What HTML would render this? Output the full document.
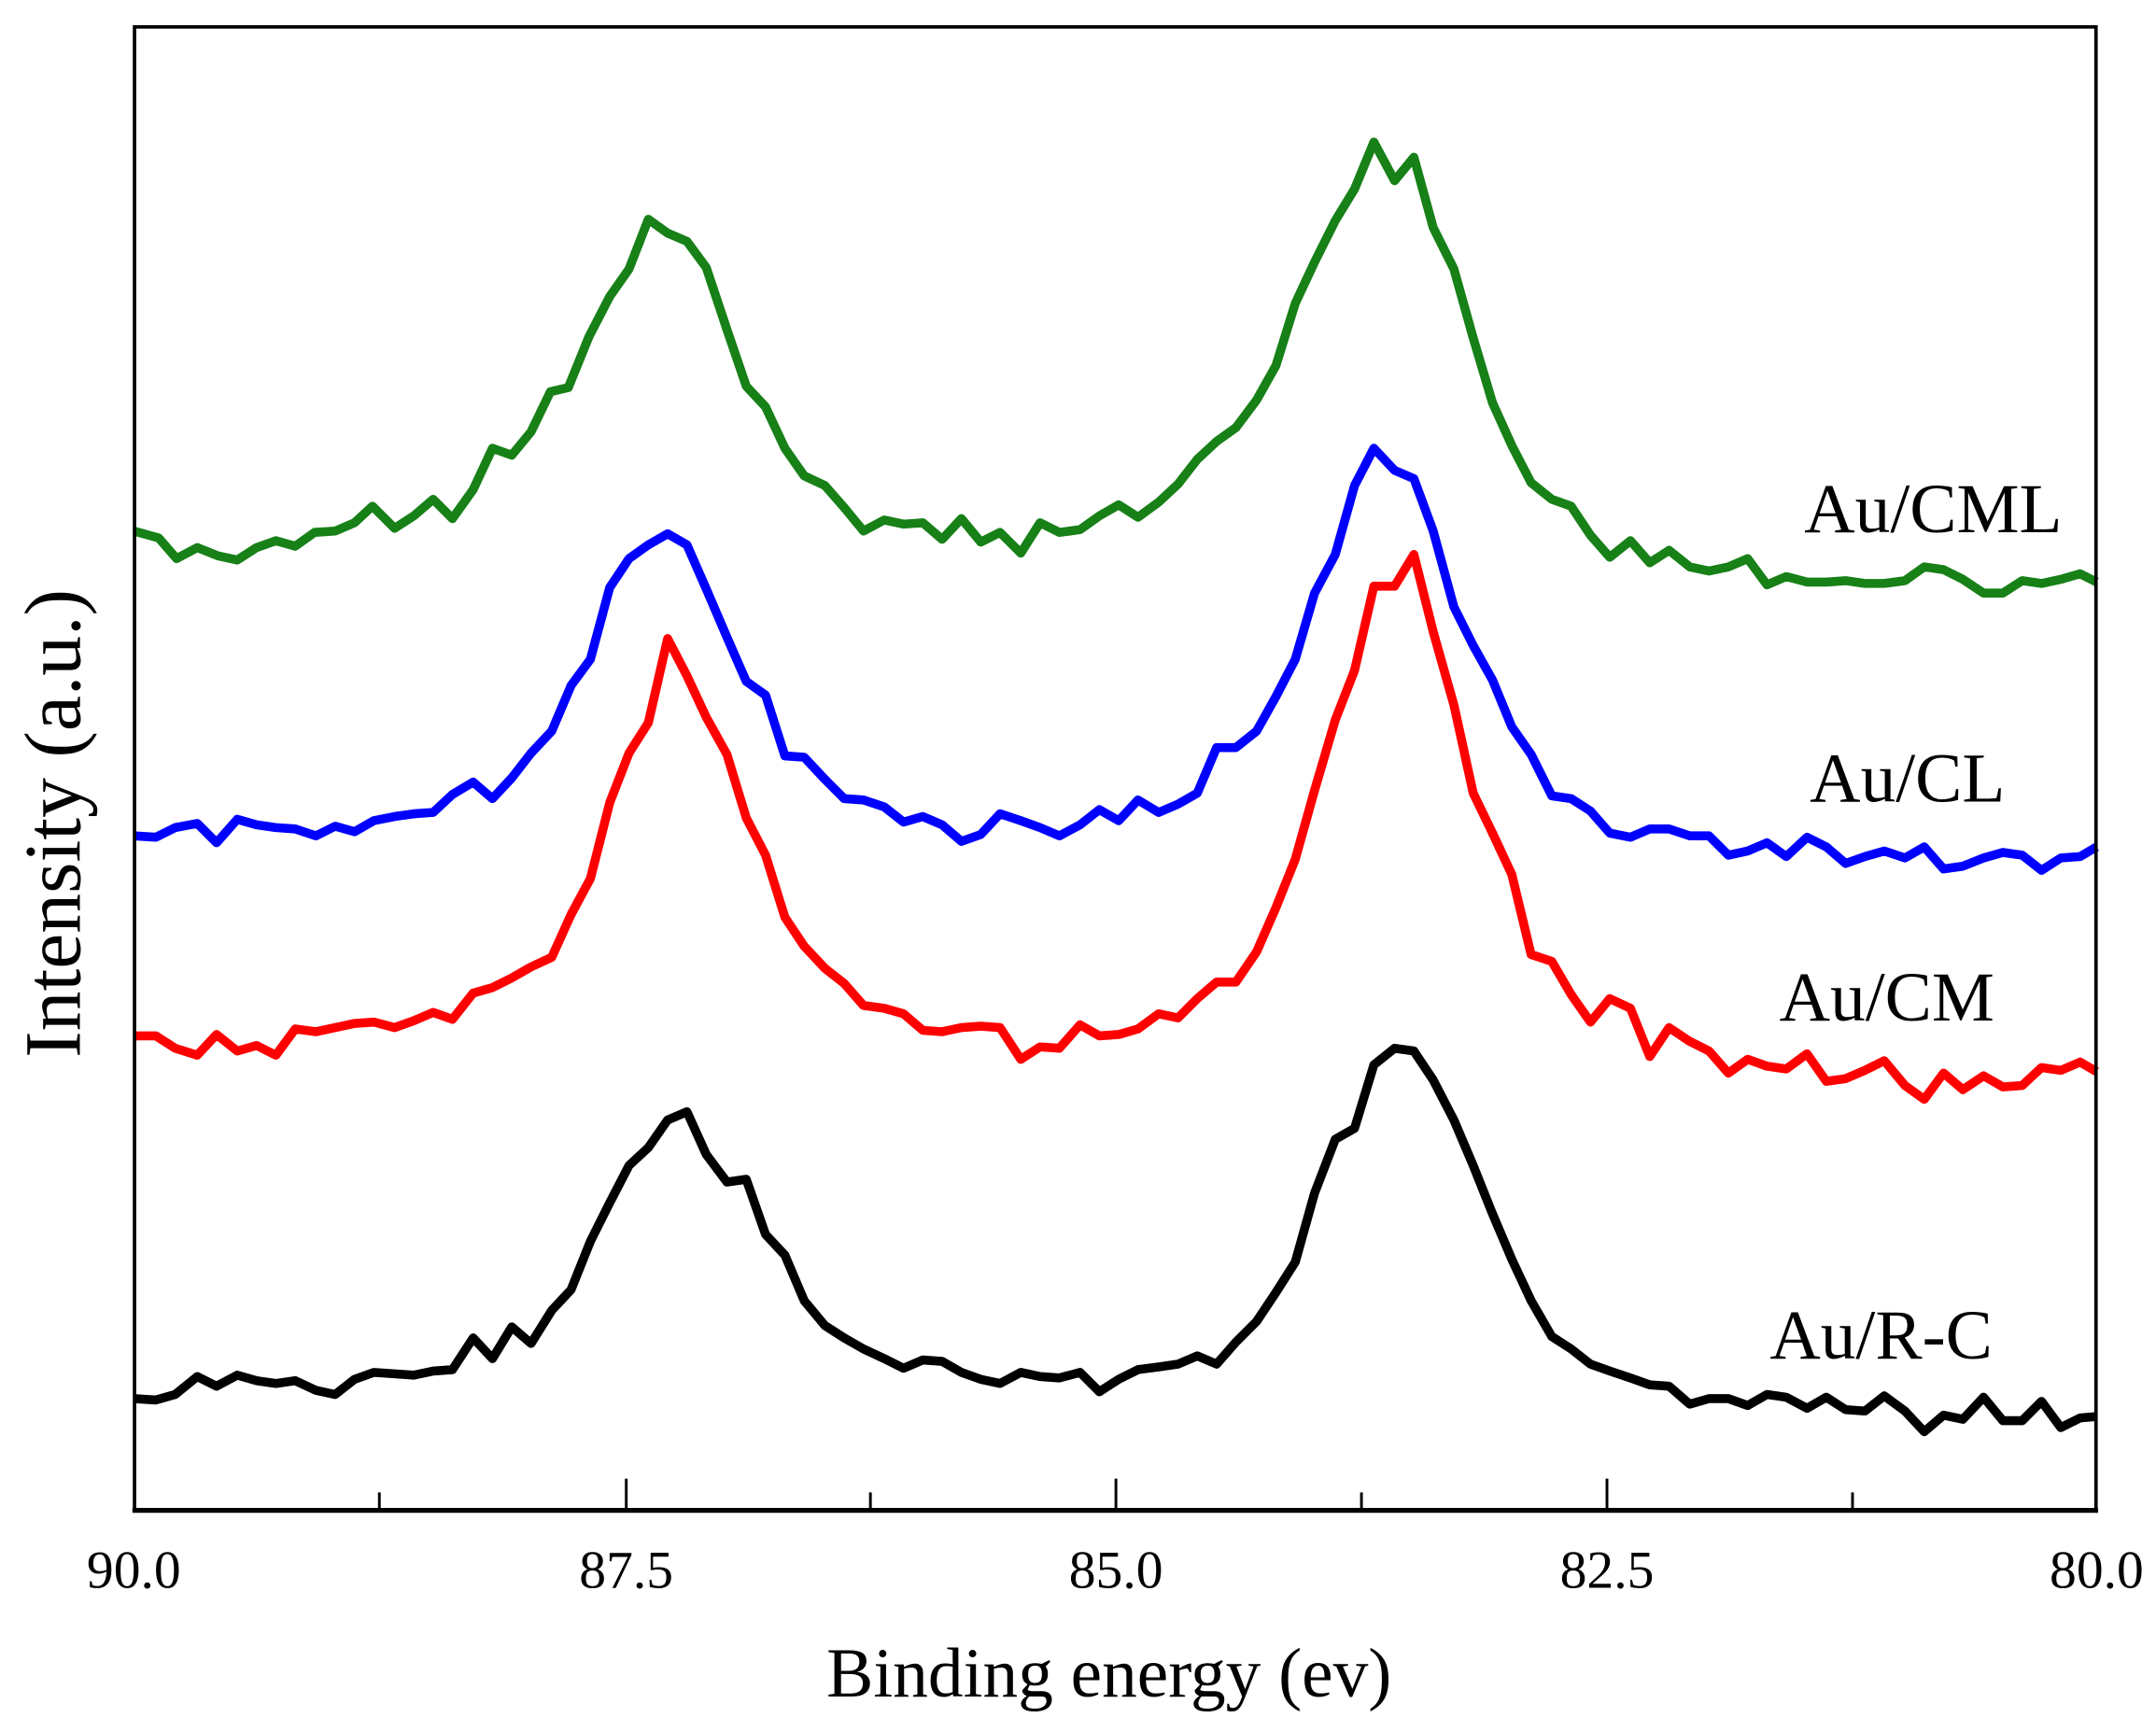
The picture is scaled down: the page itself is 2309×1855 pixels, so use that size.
<!DOCTYPE html>
<html><head><meta charset="utf-8"><style>html,body{margin:0;padding:0;background:#fff}svg{display:block}</style></head>
<body>
<svg width="2309" height="1855" viewBox="0 0 1563 1255.7" xmlns="http://www.w3.org/2000/svg" font-family="Liberation Serif, serif">
<rect width="1563" height="1256" fill="#fff"/>
<g fill="none" stroke-width="6.5" stroke-linejoin="round">
<polyline stroke="#178017" points="97,385 115,390 128,405 143,397 158,403 172,406 186,397 200,392 214,396 228,386 243,385 257,379 270,367 286,383 300,374 314,362 328,376 343,355 357,325 371,330 385,313 399,284 412,281 427,244 442,215 456,195 470,159 484,169 498,175 512,194 527,239 541,280 555,295 569,325 583,345 598,352 612,368 626,385 641,377 655,380 669,379 683,391 697,376 711,393 725,386 740,401 754,379 768,386 783,384 797,374 811,366 825,375 840,364 854,351 868,333 882,320 896,310 911,290 925,265 939,220 953,190 968,160 982,137 996,103 1011,131 1025,114 1039,165 1054,195 1068,245 1082,292 1096,323 1110,350 1125,362 1139,367 1153,388 1167,404 1182,392 1196,408 1210,399 1225,411 1239,414 1253,411 1267,405 1281,424 1295,418 1310,422 1324,422 1338,421 1352,423 1366,423 1381,421 1395,411 1409,413 1423,420 1438,430 1452,430 1466,421 1480,423 1494,420 1508,416 1520,422"/>
<polyline stroke="#0000ff" points="97,606 113,607 127,600 143,597 157,611 172,594 186,598 200,600 214,601 229,606 243,599 257,603 271,595 286,592 300,590 314,589 328,576 343,567 357,579 371,564 385,546 400,530 414,497 428,478 442,426 456,405 470,395 484,387 498,395 512,427 527,462 541,494 555,504 569,548 583,549 598,565 612,579 626,580 641,585 655,596 669,592 683,598 697,610 711,605 725,590 740,595 754,600 768,606 783,598 797,587 811,595 825,580 840,589 854,583 868,575 882,542 896,542 911,530 925,505 939,478 953,430 968,402 982,352 996,325 1011,341 1025,347 1039,385 1054,440 1068,468 1082,493 1096,527 1110,547 1125,577 1139,579 1153,588 1167,604 1182,607 1196,601 1210,601 1225,606 1239,606 1253,620 1267,617 1281,611 1295,621 1310,607 1324,614 1338,626 1352,621 1366,617 1381,622 1395,614 1409,630 1423,628 1438,622 1452,618 1466,620 1480,631 1494,622 1508,621 1520,614"/>
<polyline stroke="#ff0000" points="97,751 113,751 127,760 143,765 157,750 172,762 186,758 200,765 214,746 229,748 243,745 257,742 271,741 286,745 300,740 314,734 328,739 343,720 357,716 371,709 385,701 400,694 414,663 428,637 442,582 456,546 470,524 484,463 498,490 512,520 527,547 541,593 555,620 569,665 583,686 598,702 612,713 626,729 641,731 655,735 669,747 683,748 697,745 711,744 725,745 740,768 754,759 768,760 783,743 797,751 811,750 825,746 840,735 854,738 868,724 882,712 896,712 911,690 925,658 939,623 953,573 968,522 982,486 996,425 1011,425 1025,402 1039,458 1054,511 1068,575 1082,604 1096,634 1110,692 1125,697 1139,721 1153,741 1167,724 1182,731 1196,766 1210,745 1225,755 1239,762 1253,778 1267,768 1281,773 1295,775 1310,764 1324,784 1338,782 1352,776 1366,769 1381,787 1395,797 1409,778 1423,790 1438,780 1452,788 1466,787 1480,774 1494,776 1508,770 1520,777"/>
<polyline stroke="#000" points="97,1014 113,1015 127,1011 143,998 157,1005 172,997 186,1001 200,1003 214,1001 229,1008 243,1011 257,1000 271,995 286,996 300,997 314,994 328,993 343,970 357,985 371,962 385,974 400,950 414,935 428,900 442,872 456,845 470,832 484,812 498,806 512,837 527,857 541,855 555,895 569,910 583,943 598,961 612,970 626,978 641,985 655,992 669,986 683,987 697,995 711,1000 725,1003 740,995 754,998 768,999 783,995 797,1009 811,1000 825,993 840,991 854,989 868,983 882,989 896,973 911,958 925,937 939,915 953,865 968,826 982,818 996,772 1011,760 1025,762 1039,783 1054,812 1068,845 1082,880 1096,913 1110,943 1125,969 1139,978 1153,989 1167,994 1182,999 1196,1004 1210,1005 1225,1018 1239,1014 1253,1014 1267,1019 1281,1011 1295,1013 1310,1021 1324,1013 1338,1022 1352,1023 1366,1012 1381,1023 1395,1038 1409,1026 1423,1029 1438,1013 1452,1030 1466,1030 1480,1016 1494,1035 1508,1028 1520,1027"/>
</g>
<rect x="97.5" y="19.5" width="1422" height="1075" fill="none" stroke="#000" stroke-width="2.5"/>
<line x1="96" y1="1095" x2="1521" y2="1095" stroke="#000" stroke-width="3.5"/>
<g stroke="#000" stroke-width="2">
<line x1="275" y1="1095" x2="275" y2="1082"/>
<line x1="454" y1="1095" x2="454" y2="1072"/>
<line x1="631" y1="1095" x2="631" y2="1082"/>
<line x1="809" y1="1095" x2="809" y2="1072"/>
<line x1="987" y1="1095" x2="987" y2="1082"/>
<line x1="1165" y1="1095" x2="1165" y2="1072"/>
<line x1="1343" y1="1095" x2="1343" y2="1082"/>
</g>
<g font-size="39" text-anchor="middle" fill="#000">
<text x="97" y="1151">90.0</text>
<text x="454" y="1151">87.5</text>
<text x="809" y="1151">85.0</text>
<text x="1165" y="1151">82.5</text>
<text x="1520" y="1151">80.0</text>
</g>
<text x="804" y="1230" font-size="51" text-anchor="middle">Binding energy (ev)</text>
<text transform="translate(58,597) rotate(-90)" font-size="58" text-anchor="middle">Intensity (a.u.)</text>
<g font-size="51" fill="#000">
<text x="1308" y="386">Au/CML</text>
<text x="1312" y="581">Au/CL</text>
<text x="1290" y="740">Au/CM</text>
<text x="1283" y="985">Au/R-C</text>
</g>
</svg>
</body></html>
